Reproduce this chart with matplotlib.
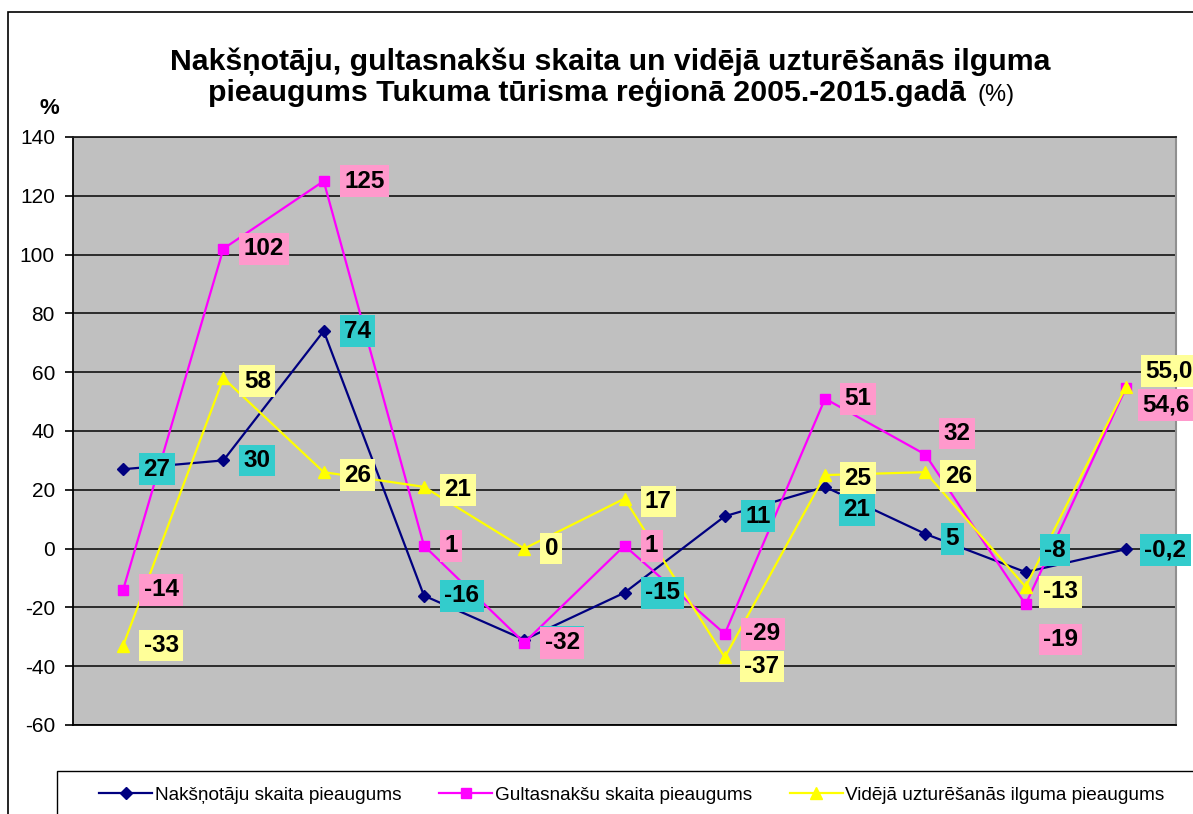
import matplotlib.pyplot as plt
from matplotlib.patches import Rectangle

plt.rcParams['font.family'] = ['Liberation Sans', 'DejaVu Sans']
plt.rcParams['axes.unicode_minus'] = False

# Data (growth in %, Tukuma tourism region 2005-2015)
years = list(range(2005, 2016))
naksnotaji = [27, 30, 74, -16, -31, -15, 11, 21, 5, -8, -0.2]
gultasnaksi = [-14, 102, 125, 1, -32, 1, -29, 51, 32, -19, 54.6]
uzturesanas = [-33, 58, 26, 21, 0, 17, -37, 25, 26, -13, 55.0]

naksnotaji_lbl = ["27", "30", "74", "-16", "-32", "-15", "11", "21", "5", "-8", "-0,2"]
gultasnaksi_lbl = ["-14", "102", "125", "1", "-32", "1", "-29", "51", "32", "-19", "54,6"]
uzturesanas_lbl = ["-33", "58", "26", "21", "0", "17", "-37", "25", "26", "-13", "55,0"]

legend_names = ["Nakšņotāju skaita pieaugums",
                "Gultasnakšu skaita pieaugums",
                "Vidējā uzturēšanās ilguma pieaugums"]

# label box offsets (px): box left edge from point, box centre down from point
off_navy = [(16, 0), (16, 0), (16, 0), (16, 0), (16, 2), (16, 0), (16, 0),
            (14, 23), (16, 5), (14, -22), (14, 1)]
off_pink = [(16, 0), (16, 0), (16, 0), (16, 0), (16, 0), (16, 0), (16, 0),
            (15, 0), (14, -21), (13, 35), (12, 17)]
off_yell = [(16, 0), (16, 3), (16, 3), (16, 3), (16, 0), (16, 3), (15, 9),
            (15, 3), (15, 4), (13, 5), (15, -16)]

W, H = 1193, 814
fig = plt.figure(figsize=(W / 100, H / 100), dpi=100)
ax = fig.add_axes([73 / W, 1 - 725 / H, 1103 / W, 588 / H])
ax.set_facecolor('#c0c0c0')

x = list(range(len(years)))
ax.plot(x, naksnotaji, color='#000080', lw=1.6, marker='D', ms=6.5, zorder=3,
        label=legend_names[0])
ax.plot(x, gultasnaksi, color='#ff00ff', lw=1.6, marker='s', ms=7.5, zorder=3,
        label=legend_names[1])
ax.plot(x, uzturesanas, color='#ffff00', lw=1.6, marker='^', ms=8.5, zorder=3,
        label=legend_names[2])

fs = 17.5
pad = 0.18
pad_px = pad * fs * 100 / 72


def put_labels(vals, lbls, offs, fc):
    for i, (v, t) in enumerate(zip(vals, lbls)):
        dx, dy = offs[i]
        ax.annotate(t, (x[i], v), xytext=(dx + pad_px, -dy),
                    textcoords='offset pixels', ha='left', va='center',
                    fontsize=fs, fontweight='bold', color='black', zorder=5,
                    annotation_clip=False,
                    bbox=dict(boxstyle='square,pad=%.2f' % pad, fc=fc, ec='none'))


put_labels(naksnotaji, naksnotaji_lbl, off_navy, '#33cccc')
put_labels(gultasnaksi, gultasnaksi_lbl, off_pink, '#ff99cc')
put_labels(uzturesanas, uzturesanas_lbl, off_yell, '#ffff99')

ax.set_xlim(-0.5, len(years) - 0.5)
ax.set_ylim(-60, 140)
ax.set_yticks(range(-60, 141, 20))
ax.set_xticks([])
ax.grid(axis='y', color='#202020', lw=1.3, zorder=1)
ax.set_axisbelow(True)
ax.tick_params(axis='y', length=6, width=1.2, pad=7, labelsize=15)
for s in ['left', 'bottom']:
    ax.spines[s].set_color('black')
    ax.spines[s].set_linewidth(1.3)
ax.spines['top'].set_color('#202020')
ax.spines['top'].set_linewidth(1.3)
ax.spines['right'].set_color('#909090')
ax.spines['right'].set_linewidth(1.5)

# outer frame and legend box (both run past the image edge)
fig.patches.append(Rectangle((8 / W, -0.1), 2, 1.1 - 12 / H, transform=fig.transFigure,
                             fill=False, ec='black', lw=1.2))
fig.patches.append(Rectangle((57 / W, -0.1), 2, 0.1 + 1 - 771 / H, transform=fig.transFigure,
                             fill=False, ec='black', lw=1.0))

fig.legend(loc='center left', bbox_to_anchor=(99 / W, 1 - 795 / H), ncol=3,
           frameon=False, fontsize=13.7, handlelength=2.8, handletextpad=0.12,
           columnspacing=2.0, borderpad=0, borderaxespad=0)

# title
fig.text(610 / W, 1 - 70 / H, "Nakšņotāju, gultasnakšu skaita un vidējā uzturēšanās ilguma",
         ha='center', va='baseline', fontsize=21.8, fontweight='bold')
t2 = fig.text(0, 1 - 101 / H, "pieaugums Tukuma tūrisma reģionā 2005.-2015.gadā",
              ha='left', va='baseline', fontsize=21.8, fontweight='bold')
t3 = fig.text(0, 1 - 101 / H, "(%)", ha='left', va='baseline', fontsize=17)
fig.canvas.draw()
r = fig.canvas.get_renderer()
w2 = t2.get_window_extent(r).width
w3 = t3.get_window_extent(r).width
gap = 12
total = w2 + gap + w3
x0 = 611 - total / 2
t2.set_x(x0 / W)
t3.set_x((x0 + w2 + gap) / W)

fig.text(49 / W, 1 - 108 / H, "%", ha='center', va='center', fontsize=16, fontweight='bold')

fig.savefig('out.png', dpi=100)
